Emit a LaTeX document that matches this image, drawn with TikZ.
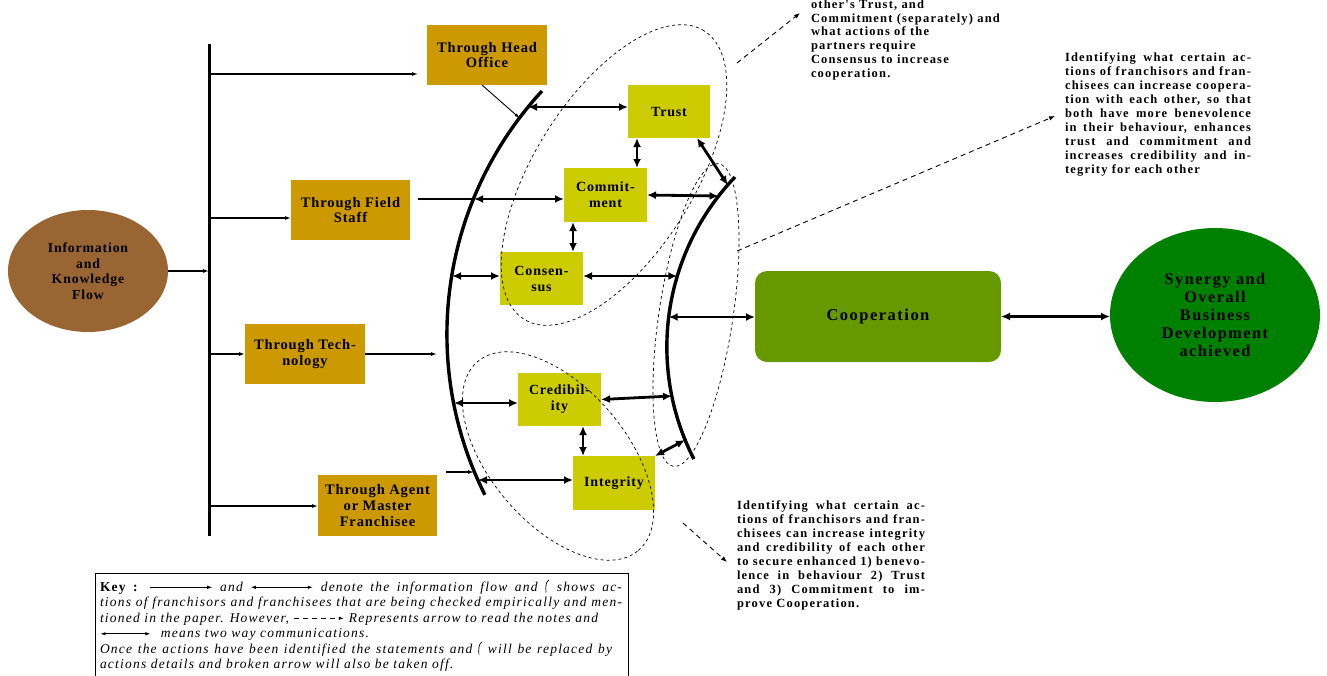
\documentclass[tikz,border=0pt]{standalone}
\usepackage{fontspec}
\setmainfont{Liberation Serif}
\newfontfamily\boxfont[LetterSpace=6]{Liberation Serif}
\newfontfamily\bigfont[LetterSpace=9]{Liberation Serif}
\newfontfamily\notefont[LetterSpace=9.5]{Liberation Serif}
\newfontfamily\keyfont[LetterSpace=9]{Liberation Serif}
\usetikzlibrary{shapes.geometric,arrows.meta,calc}
\definecolor{infobrown}{HTML}{996633}
\definecolor{chanorange}{HTML}{CC9900}
\definecolor{actyellow}{HTML}{CCCC00}
\definecolor{coopgreen}{HTML}{669900}
\definecolor{syngreen}{HTML}{008000}
\newcommand{\keyarrow}{\tikz[baseline=-0.6ex]\draw[line width=0.7pt,-{Latex[length=5pt,width=3.5pt]}] (0pt,0pt) -- (62pt,0pt);}
\newcommand{\keydbl}[1]{\tikz[baseline=-0.6ex]\draw[line width=0.9pt,{Latex[length=5pt,width=3.5pt]}-{Latex[length=5pt,width=3.5pt]}] (0pt,0pt) -- (#1,0pt);}
\newcommand{\keydash}{\tikz[baseline=-0.6ex]\draw[line width=0.9pt,dash pattern=on 5pt off 4pt,-{Latex[length=5pt,width=3.5pt]}] (0pt,0pt) -- (50pt,0pt);}
\newcommand{\keyarc}{\tikz[baseline=0pt]\draw[line width=0.7pt] (3.5pt,11pt) .. controls (0.5pt,10pt) and (0pt,4pt) .. (0.5pt,-1.5pt);}
\begin{document}
\begin{tikzpicture}[x=1pt,y=1pt,
  every node/.style={inner sep=0pt,outer sep=0pt},
  chan/.style={fill=chanorange,minimum width=120pt,minimum height=60pt,align=center,
    font=\boxfont\bfseries\fontsize{14.5}{15.8}\selectfont},
  act/.style={fill=actyellow,minimum width=82pt,minimum height=53pt,align=center,
    font=\boxfont\bfseries\fontsize{14}{16}\selectfont},
  feed/.style={line width=1.1pt,-{Latex[length=6pt,width=4pt]}},
  plain/.style={line width=1.1pt},
  dbl/.style={line width=2.8pt,{Latex[length=9pt,width=8pt]}-{Latex[length=9pt,width=8pt]}},
  bigarc/.style={line width=3.4pt},
  zone/.style={dashed,line width=0.7pt},
  notearrow/.style={line width=0.9pt,dash pattern=on 5pt off 4pt,-{Latex[length=6pt,width=4.5pt]}},
  notetext/.style={anchor=north west,font=\notefont\bfseries\fontsize{12.5}{13.9}\selectfont},
  keyline/.style={anchor=base west,font=\keyfont\itshape\fontsize{13.5}{14}\selectfont}
]
\useasboundingbox (0,0) rectangle (1327,-675);

% source and trunk
\node[ellipse,fill=infobrown,minimum width=160pt,minimum height=122pt,align=center,
  font=\boxfont\bfseries\fontsize{13.8}{15.5}\selectfont] (info) at (88,-271)
  {Information\\and\\Knowledge\\Flow};
\coordinate (vtop) at (209,-44);
\coordinate (vbot) at (209,-536);
\draw[line width=3pt] (vtop) -- (vbot);
\draw[feed] (info.east) -- (info.east -| vtop);

% channels
\node[chan] (head) at (487,-55) {Through Head\\Office};
\node[chan,minimum width=119pt] (field) at (350.5,-210) {Through Field\\Staff};
\node[chan] (tech) at (305,-354) {Through Tech-\\nology};
\node[chan,minimum width=119pt,minimum height=61pt] (agent) at (377.5,-505.5) {Through Agent\\or Master\\Franchisee};

\draw[feed] (vtop |- 0,-74) -- ([xshift=-9pt]head.west |- 0,-74);
\draw[feed] (vtop |- 0,-218) -- (field.west |- 0,-218);
\draw[feed] (vtop |- tech.west) -- (tech.west);
\draw[feed] (vtop |- 0,-506) -- (agent.west |- 0,-506);

% big arcs (circular)
\draw[bigarc] (542,-91) arc[start angle=137.3,end angle=206.6,radius=358.7pt];
\draw[bigarc] (735,-177) arc[start angle=136.3,end angle=207.1,radius=246pt];

% arc points
\coordinate (L0) at (519.5,-118);
\coordinate (L1) at (528,-107);
\coordinate (L2) at (474,-199);
\coordinate (L3) at (452,-276);
\coordinate (T1) at (437,-354);
\coordinate (L5) at (454,-403);
\coordinate (A0) at (446,-472);
\coordinate (A1) at (474,-472);
\coordinate (L6) at (478,-480);
\coordinate (R1) at (727.7,-185);
\coordinate (R2) at (718.6,-196);
\coordinate (R3) at (677.3,-276);
\coordinate (R4) at (668.7,-317);
\coordinate (R5) at (672,-396);
\coordinate (R6) at (685,-440);

% actions
\node[act] (trust) at (669,-111.5) {Trust};
\node[act,minimum width=83pt,minimum height=54pt] (commit) at (605.5,-195) {Commit-\\ment};
\node[act,minimum width=83pt] (consensus) at (541.5,-278.5) {Consen-\\sus};
\node[act,minimum width=83pt] (cred) at (559.5,-399.5) {Credibil-\\ity};
\node[act,minimum height=54pt] (integ) at (614,-483) {Integrity};

% outcomes
\node[fill=coopgreen,rounded corners=12pt,minimum width=246pt,minimum height=91pt,
  font=\bigfont\bfseries\fontsize{16.5}{18}\selectfont] (coop) at (878,-316.5) {Cooperation};
\node[ellipse,fill=syngreen,minimum width=210pt,minimum height=174pt,align=center,
  font=\bigfont\bfseries\fontsize{16.3}{18.2}\selectfont] (syn) at (1215,-315)
  {Synergy and\\Overall\\Business\\Development\\achieved};

% channel to arc connectors
\draw[feed,line width=0.9pt,-{Latex[length=5pt,width=3.5pt]}] ([xshift=-5pt]head.south) -- (L0);
\draw[plain] ([xshift=8pt]field.east |- L2) -- (L2);
\draw[feed] (tech.east) -- (T1);
\draw[feed] (A0) -- (A1);

% two way arrows
\draw[dbl] (L1) -- (L1 -| trust.west);
\draw[dbl] ([xshift=9pt]trust.south west) -- ([xshift=9pt]trust.south west |- commit.north);
\draw[dbl] ([xshift=-13pt]trust.south east) -- (R1);
\draw[dbl] (L2) -- (L2 -| commit.west);
\draw[dbl] (commit.east) -- (R2);
\draw[dbl] ([xshift=9pt]commit.south west) -- ([xshift=9pt]commit.south west |- consensus.north);
\draw[dbl] (L3) -- (L3 -| consensus.west);
\draw[dbl] (consensus.east |- R3) -- (R3);
\draw[dbl] (R4) -- (R4 -| coop.west);
\draw[dbl] (L5) -- (L5 -| cred.west);
\draw[dbl] (cred.east) -- (R5);
\draw[dbl] ([xshift=-18pt]cred.south east) -- ([xshift=-18pt]cred.south east |- integ.north);
\draw[dbl] (L6) -- (L6 -| integ.west);
\draw[dbl] (integ.north east) -- (R6);
\draw[dbl] (coop.east) -- (coop.east -| syn.west);

% dashed zones
\draw[zone,rotate around={58:(614,-175)}] (614,-175) ellipse [x radius=170pt,y radius=80pt];
\draw[zone,rotate around={81.5:(696,-315)}] (696,-315) ellipse [x radius=153pt,y radius=37pt];
\draw[zone,rotate around={-49.6:(558,-456)}] (558,-456) ellipse [x radius=124pt,y radius=68pt];

% notes
\node[notetext,align=left] (n1) at (811,0.5)
  {other's Trust, and\\Commitment (separately) and\\what actions of the\\partners require\\Consensus to increase\\cooperation.};
\node[notetext,text width=186pt,align=justify] (n2) at (1065,-53)
  {\tolerance=10000\hbadness=10000 Identifying what certain ac-\linebreak tions of franchisors and fran-\linebreak chisees can increase coopera-\linebreak tion with each other, so that\linebreak both have more benevolence\linebreak in their behaviour, enhances\linebreak trust and commitment and\linebreak increases credibility and in-\linebreak tegrity for each other};
\node[notetext,text width=188pt,align=justify] (n3) at (737,-501)
  {\tolerance=10000\hbadness=10000 Identifying what certain ac-\linebreak tions of franchisors and fran-\linebreak chisees can increase integrity\linebreak and credibility of each other\linebreak to secure enhanced 1) benevo-\linebreak lence in behaviour 2) Trust\linebreak and 3) Commitment to im-\linebreak prove Cooperation.};
\coordinate (d1s) at (737,-63);
\coordinate (d1e) at (800,-13);
\coordinate (d2s) at (737,-251);
\coordinate (d2e) at (1055,-116);
\coordinate (d3s) at (683,-523);
\coordinate (d3e) at (727,-562);
\draw[notearrow] (d1s) -- (d1e);
\draw[notearrow] (d2s) -- (d2e);
\draw[notearrow] (d3s) -- (d3e);

% key
\draw[line width=1pt] (95,-700) -- (95,-573) -- (628,-573) -- (628,-700);
\node[keyline] (k1) at (100,-591) {\makebox[522pt][s]{\textbf{\upshape Key :} \keyarrow{} and \keydbl{62pt} denote the information flow and \keyarc{} shows ac-}};
\node[keyline] (k2) at (100,-606.5) {\makebox[522pt][s]{tions of franchisors and franchisees that are being checked empirically and men-}};
\node[keyline] (k3) at (100,-622) {\makebox[498pt][s]{tioned in the paper. However, \keydash{} Represents arrow to read the notes and}};
\node[keyline] (k4) at (100,-637.5) {\keydbl{50pt}\hspace{10pt}means two way communications.};
\node[keyline] (k5) at (100,-653) {\makebox[512pt][s]{Once the actions have been identified the statements and \keyarc{} will be replaced by}};
\node[keyline] (k6) at (100,-668) {actions details and broken arrow will also be taken off.};
\end{tikzpicture}
\end{document}
